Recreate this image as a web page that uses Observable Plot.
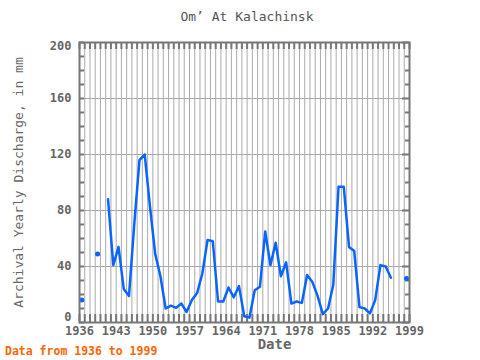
<!DOCTYPE html>
<html><head><meta charset="utf-8">
<script src="https://cdn.jsdelivr.net/npm/d3@7"></script>
<script src="https://cdn.jsdelivr.net/npm/@observablehq/plot@0.6"></script>
<style>
body{margin:0;background:#fff;}
#wrap{position:relative;width:480px;height:360px;font-family:"DejaVu Sans Mono",monospace;overflow:hidden;}
#title{position:absolute;top:9px;left:14px;width:466px;text-align:center;font-size:13px;color:#555;}
#chart{position:absolute;top:36px;left:0;}
#chart svg{overflow:visible;}
#caption{position:absolute;left:5px;top:344px;font-size:11.5px;font-weight:bold;color:#ff6600;}
</style></head>
<body>
<div id="wrap">
<div id="title">Om’ At Kalachinsk</div>
<div id="chart"></div>
<div id="caption">Data from 1936 to 1999</div>
</div>
<script>
const years = [1936,1937,1938,1939,1940,1941,1942,1943,1944,1945,1946,1947,1948,1949,1950,1951,1952,1953,1954,1955,1956,1957,1958,1959,1960,1961,1962,1963,1964,1965,1966,1967,1968,1969,1970,1971,1972,1973,1974,1975,1976,1977,1978,1979,1980,1981,1982,1983,1984,1985,1986,1987,1988,1989,1990,1991,1992,1993,1994,1995,1996,1997,1998];
const discharge = [16,null,null,49,null,88,41,54,24,19,70,116,120,83,49,33,10,12,10.5,13.5,7.5,16,21,35,59,58,15,15,25,18,26,4.5,3.5,23,25.5,65,41,57,33,43,13.5,15,14,34,29,19,6,10,27,97,97,54,51,11,10,6.5,16,41,40,32,null,null,31.5];
const xTickLabels = [1936,1943,1950,1957,1964,1971,1978,1985,1992,1999];
const yTickLabels = [0,40,80,120,160,200];

const data = years.map((y,i)=>({year:y, x:y+0.45, value:discharge[i]}));
const isolated = data.filter((d,i)=>d.value!=null && (i===0||discharge[i-1]==null) && (i===data.length-1||discharge[i+1]==null));

const W=480,H=324,mL=79,mR=71,mT=6,mB=38;
const innerW=W-mL-mR, innerH=H-mT-mB;
const font='"DejaVu Sans Mono", monospace';
const axisCol="#777", gridCol="#aaa", txtCol="#666";

const allYears = d3.range(1936,2000);
const minor = d3.range(0,201,10);

const chart = Plot.plot({
  width:W, height:H, marginLeft:mL, marginRight:mR, marginTop:mT, marginBottom:mB,
  style:{fontFamily:font, background:"transparent"},
  x:{domain:[1936,1999], axis:null},
  y:{domain:[0,200], axis:null},
  marks:[
    Plot.ruleX(allYears.slice(1,-1), {stroke:gridCol, strokeWidth:1}),
    Plot.ruleY([40,80,120,160], {stroke:gridCol, strokeWidth:1}),
    Plot.ruleX(allYears, {stroke:axisCol, strokeWidth:2, insetTop:innerH-8}),
    Plot.ruleX(allYears, {stroke:axisCol, strokeWidth:2, insetBottom:innerH-7}),
    Plot.ruleY(minor, {stroke:axisCol, strokeWidth:2, insetRight:innerW-5}),
    Plot.ruleY(minor.filter(d=>d%40!==0), {stroke:axisCol, strokeWidth:2, insetLeft:innerW-4}),
    Plot.ruleY(minor.filter(d=>d%40===0), {stroke:axisCol, strokeWidth:2, insetLeft:innerW-7}),
    Plot.line(data, {x:"x", y:"value", stroke:"#0a64ff", strokeWidth:2.5}),
    Plot.dot(isolated, {x:"x", y:"value", r:2.5, fill:"#0a64ff", stroke:null}),
    Plot.frame({stroke:axisCol, strokeWidth:2}),
    Plot.text(xTickLabels, {x:d=>d, text:d=>String(d), frameAnchor:"bottom", dy:12, fontSize:12, fontWeight:"bold", fill:txtCol}),
    Plot.text(yTickLabels.filter(d=>d>0 && d<200), {y:d=>d, text:d=>String(d), frameAnchor:"left", dx:-8, textAnchor:"end", fontSize:12, fontWeight:"bold", fill:txtCol}),
    Plot.text([200], {y:d=>d, text:d=>String(d), frameAnchor:"left", dx:-8, dy:4, textAnchor:"end", fontSize:12, fontWeight:"bold", fill:txtCol}),
    Plot.text([0], {y:d=>d, text:d=>String(d), frameAnchor:"left", dx:-8, dy:-5, textAnchor:"end", fontSize:12, fontWeight:"bold", fill:txtCol}),
    Plot.text(["Date"], {frameAnchor:"bottom", textAnchor:"middle", dx:30, dy:26, fontSize:14, fontWeight:"bold", fill:txtCol}),
    Plot.text(["Archival Yearly Discharge, in mm"], {frameAnchor:"left", textAnchor:"middle", dx:-61, rotate:-90, fontSize:13, fill:txtCol})
  ]
});
document.getElementById("chart").appendChild(chart);
</script>
</body></html>
